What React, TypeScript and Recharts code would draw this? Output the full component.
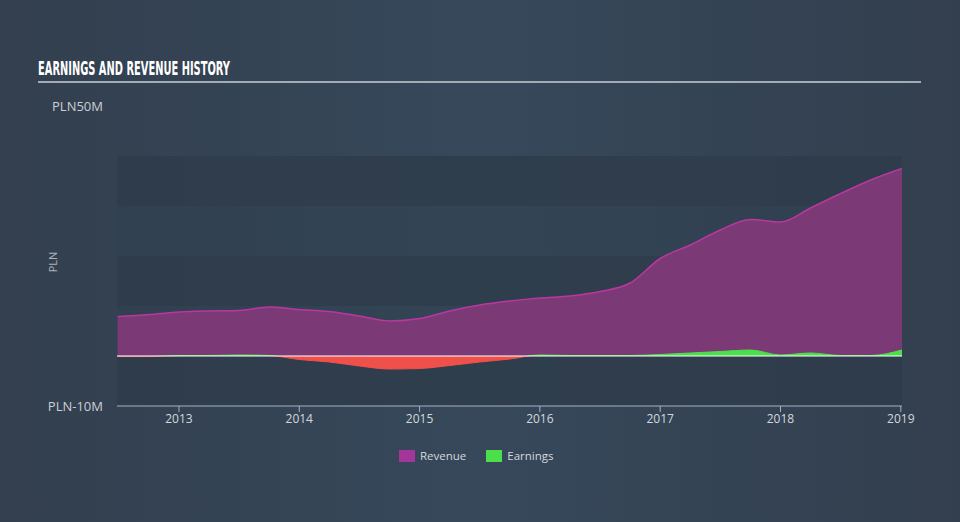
import React from "react";
import {
  Area,
  ComposedChart,
  ReferenceArea,
  ReferenceLine,
  XAxis,
  YAxis,
} from "recharts";

// time in decimal years
const periods = [
  2012.49, 2012.75, 2013.0, 2013.25, 2013.5, 2013.75, 2014.0, 2014.25, 2014.5,
  2014.75, 2015.0, 2015.25, 2015.5, 2015.75, 2016.0, 2016.25, 2016.5, 2016.75,
  2017.0, 2017.25, 2017.5, 2017.75, 2018.0, 2018.25, 2018.5, 2018.75, 2019.01,
];

// PLN millions
const revenue = [
  7.9, 8.3, 8.8, 9.0, 9.1, 9.8, 9.3, 8.9, 8.0, 7.0, 7.5, 9.0, 10.2, 11.0, 11.6,
  12.0, 12.9, 14.6, 19.5, 22.2, 25.2, 27.3, 26.8, 29.6, 32.5, 35.2, 37.5,
];

const earnings = [
  -0.1, -0.1, 0.1, 0.1, 0.2, 0.1, -0.7, -1.2, -2.0, -2.6, -2.5, -1.9, -1.2,
  -0.6, 0.2, 0.1, 0.1, 0.1, 0.3, 0.6, 0.9, 1.2, 0.2, 0.6, 0.1, 0.1, 1.2,
];

const yearTicks = [2013, 2014, 2015, 2016, 2017, 2018, 2019];
const valueTicks = [-10, 50];

const data = periods.map((t, i) => ({
  t,
  revenue: revenue[i],
  earnings: earnings[i],
}));

const eMax = Math.max(...earnings);
const eMin = Math.min(...earnings);
const zeroOffset = eMax / (eMax - eMin);

const FONT = "'Open Sans', 'DejaVu Sans', sans-serif";

const YTick = (props: any) => {
  const { y, payload } = props;
  return (
    <text
      x={103}
      y={y}
      dy={5}
      textAnchor="end"
      fill="#c9cfd6"
      fontSize={13}
      fontFamily={FONT}
    >
      {`PLN${payload.value}M`}
    </text>
  );
};

export default function App() {
  return (
    <div
      style={{
        position: "absolute",
        left: 0,
        top: 0,
        width: 960,
        height: 522,
        background: "linear-gradient(90deg, #333f4f 0%, #36485a 50%, #333f4f 100%)",
        fontFamily: FONT,
        overflow: "hidden",
      }}
    >
      <svg
        width={960}
        height={522}
        style={{ position: "absolute", left: 0, top: 0 }}
      >
        <text
          x={38}
          y={75}
          fill="#ffffff"
          fontSize={20}
          fontWeight="bold"
          fontFamily="'DejaVu Sans Condensed', 'DejaVu Sans', sans-serif"
          textLength={192}
          lengthAdjust="spacingAndGlyphs"
        >
          EARNINGS AND REVENUE HISTORY
        </text>
        <rect x={38} y={81} width={883} height={2} fill="#a3abb4" />
        <text
          x={0}
          y={0}
          transform="translate(57 262) rotate(-90)"
          textAnchor="middle"
          fill="#aab2bb"
          fontSize={11}
          fontFamily={FONT}
        >
          PLN
        </text>
      </svg>
      <ComposedChart
        width={960}
        height={522}
        data={data}
        margin={{ top: 106, right: 58, bottom: 86, left: 0 }}
        style={{ position: "absolute", left: 0, top: 0 }}
      >
        <defs>
          <linearGradient id="earnFill" x1="0" y1="0" x2="0" y2="1">
            <stop offset={zeroOffset} stopColor="#4be04b" />
            <stop offset={zeroOffset} stopColor="#f0504a" />
          </linearGradient>
        </defs>
        <ReferenceArea y1={30} y2={40} fill="#2d3b4a" fillOpacity={0.75} stroke="none" />
        <ReferenceArea y1={20} y2={30} fill="#2f3e4e" fillOpacity={0.35} stroke="none" />
        <ReferenceArea y1={10} y2={20} fill="#2d3b4a" fillOpacity={0.75} stroke="none" />
        <ReferenceArea y1={0} y2={10} fill="#2f3e4e" fillOpacity={0.35} stroke="none" />
        <ReferenceArea y1={-10} y2={0} fill="#2d3b4a" fillOpacity={0.75} stroke="none" />
        <XAxis
          type="number"
          dataKey="t"
          domain={[2012.485, 2019.01]}
          ticks={yearTicks}
          allowDataOverflow
          height={30}
          stroke="#a6b2bf"
          tickSize={6}
          tick={{ fill: "#d3d8de", fontSize: 12, fontFamily: FONT }}
          tickMargin={2}
        />
        <YAxis
          type="number"
          domain={[-10, 50]}
          ticks={valueTicks}
          width={117}
          axisLine={false}
          tickLine={false}
          tick={<YTick />}
        />
        <Area
          type="monotone"
          dataKey="revenue"
          stroke="#b8389f"
          strokeWidth={1.5}
          fill="#7b3a76"
          fillOpacity={1}
          isAnimationActive={false}
        />
        <ReferenceLine y={0} stroke="#ffffff" strokeWidth={1} />
        <Area
          type="monotone"
          dataKey="earnings"
          stroke="url(#earnFill)"
          strokeWidth={1}
          fill="url(#earnFill)"
          fillOpacity={1}
          isAnimationActive={false}
        />
      </ComposedChart>
      <div
        style={{
          position: "absolute",
          top: 449,
          left: 399,
          display: "flex",
          alignItems: "center",
          fontSize: 11.5,
          color: "#d3d8de",
          lineHeight: "14px",
        }}
      >
        <span style={{ width: 16, height: 12, background: "#a3359b", display: "inline-block" }} />
        <span style={{ marginLeft: 5 }}>Revenue</span>
        <span
          style={{ width: 16, height: 12, background: "#4be04b", display: "inline-block", marginLeft: 20 }}
        />
        <span style={{ marginLeft: 5 }}>Earnings</span>
      </div>
    </div>
  );
}
